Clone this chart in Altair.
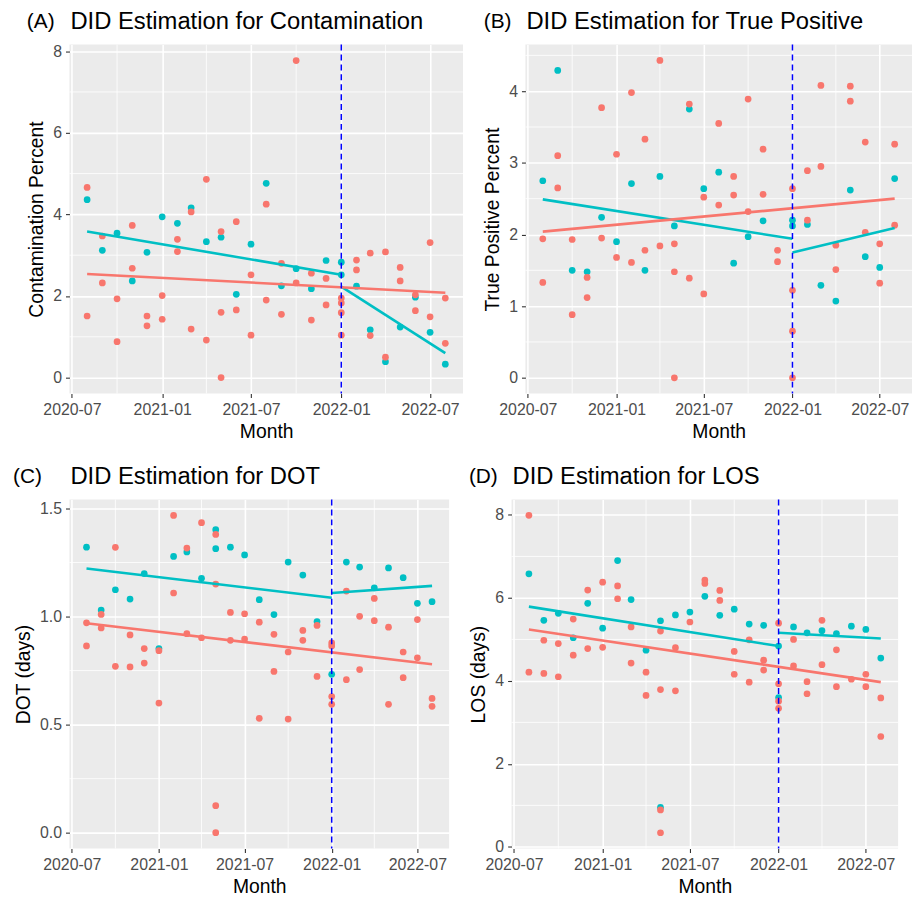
import altair as alt
import pandas as pd

MONTHS = ["2020-08", "2020-09", "2020-10", "2020-11", "2020-12",
          "2021-01", "2021-02", "2021-03", "2021-04", "2021-05", "2021-06",
          "2021-07", "2021-08", "2021-09", "2021-10", "2021-11", "2021-12",
          "2022-01", "2022-02", "2022-03", "2022-04", "2022-05", "2022-06",
          "2022-07", "2022-08"]

# ---- Panel A: Contamination ----
A_TEAL = [[4.36], [3.12], [3.54], [2.37], [3.07], [3.94], [3.78], [4.16], [3.33], [3.44],
          [2.04], [3.27], [4.76], [2.25], [2.67], [2.18], [2.87], [2.83, 2.52], [2.24],
          [1.17], [0.39], [1.24], [1.97], [1.11], [0.33]]
A_SALMON = [[4.66, 1.51], [3.47, 2.32], [1.93, 0.88], [3.73, 2.68], [1.51, 1.27],
            [2.01, 1.43], [3.39, 3.09], [4.06, 1.19], [4.86, 0.92], [3.58, 1.60, 0.0],
            [3.82, 1.66], [2.52, 1.04], [4.25, 1.90], [2.80, 1.55], [7.77, 2.32],
            [2.56, 1.41], [2.43, 1.78], [1.95, 1.83, 1.59, 1.04], [2.88, 2.64],
            [3.05, 1.03], [3.08, 0.50], [2.70, 2.37], [2.03, 1.64], [3.31, 1.49], [1.95, 0.84]]
A_TEAL_PRE = [3.58, 2.52]
A_TEAL_POST = [2.23, 0.60]
A_SALMON_FIT = [2.54, 2.08]

# ---- Panel B: True Positive ----
B_TEAL = [[2.75], [4.29], [1.50], [1.48], [2.24], [1.90], [2.71], [1.50], [2.81], [2.12],
          [3.75], [2.64], [2.87], [1.60], [1.97], [2.19], [], [2.20, 2.12], [2.14],
          [1.29], [1.07], [2.62], [1.69], [1.54], [2.78]]
B_SALMON = [[1.94, 1.33], [3.10, 2.65], [1.93, 0.88], [1.40, 1.12], [3.77, 1.95],
            [3.12, 1.68], [3.98, 1.61], [3.33, 1.78], [4.43, 1.84], [1.87, 1.48, 0.0],
            [3.82, 1.39], [2.52, 1.17], [3.55, 2.41], [2.81, 2.55], [3.89, 2.32],
            [3.19, 2.56], [1.78, 1.62], [2.64, 1.22, 0.65, 0.0], [2.89, 2.20],
            [4.08, 2.95], [1.85, 1.51], [4.07, 3.86], [3.29, 2.03], [1.87, 1.32], [3.26, 2.13]]
B_TEAL_PRE = [2.49, 1.94]
B_TEAL_POST = [1.75, 2.09]
B_SALMON_FIT = [2.04, 2.50]

# ---- Panel C: DOT ----
C_TEAL = [[1.321], [1.030], [1.124], [1.081], [1.199], [0.852], [1.278], [1.299], [1.177],
          [1.402, 1.314], [1.321], [1.285], [1.078], [1.009], [1.252], [1.192], [0.977],
          [0.733], [1.252], [1.229], [1.133], [1.225], [1.180], [1.061], [1.069]]
C_SALMON = [[0.971, 0.864], [1.010, 0.947], [1.320, 0.770], [0.915, 0.767], [0.852, 0.785],
            [0.842, 0.600], [1.468, 1.109], [1.317, 0.921], [1.434, 0.902],
            [1.380, 1.150, 0.125, 0.0], [1.019, 0.890], [1.013, 0.896], [0.974, 0.529],
            [0.918, 0.746], [0.836, 0.526], [0.936, 0.890], [0.959, 0.723],
            [0.878, 0.864, 0.630, 0.594], [1.118, 0.708], [1.001, 0.755], [1.084, 0.981],
            [0.951, 0.594], [0.836, 0.717], [0.986, 0.809], [0.621, 0.585]]
C_TEAL_PRE = [1.222, 1.087]
C_TEAL_POST = [1.109, 1.142]
C_SALMON_FIT = [0.969, 0.779]

# ---- Panel D: LOS ----
D_TEAL = [[6.58], [5.46], [5.63], [5.04], [5.87], [5.27], [6.90], [5.96], [4.74], [5.45, 0.95],
          [5.59], [5.66], [6.04], [5.58], [5.73], [5.37], [5.34], [4.84, 3.60], [5.30],
          [5.16], [5.21], [5.14], [5.32], [5.24], [4.55]]
D_SALMON = [[7.99, 4.21], [4.98, 4.18], [4.90, 4.10], [5.49, 4.62], [6.19, 4.78],
            [6.38, 4.81], [6.29, 5.98], [5.30, 4.43], [4.21, 3.65], [5.20, 3.79, 0.89, 0.34],
            [4.80, 3.76], [5.42], [6.43, 6.35], [6.18, 5.94], [4.71, 4.16], [4.99, 3.97],
            [4.50, 4.26], [5.39, 3.93, 3.51, 3.34], [5.00, 4.36], [3.98, 3.69], [5.46, 4.39],
            [4.75, 3.86], [4.04], [4.16, 3.86], [3.59, 2.66]]
D_TEAL_PRE = [5.79, 4.84]
D_TEAL_POST = [5.16, 5.02]
D_SALMON_FIT = [5.24, 3.97]

SALMON = "#F8766D"
TEAL = "#00BFC4"
FONT = "Liberation Sans"


def dt(s):
    return s + "-01T00:00:00"


X_MAJOR = [alt.DateTime(year=y, month=m, date=1) for y, m in
           [(2020, 7), (2021, 1), (2021, 7), (2022, 1), (2022, 7)]]
X_MINOR = ["2020-10", "2021-04", "2021-10", "2022-04"]
X_DOMAIN = [alt.DateTime(year=2020, month=6, date=26), alt.DateTime(year=2022, month=9, date=6)]


def panel(tag, title, ytitle, teal, salmon, tpre, tpost, sfit, ydomain, yticks, yminor,
          yfmt, width, tagx):
    pts = []
    for m, vals in zip(MONTHS, teal):
        for v in vals:
            pts.append({"date": dt(m), "value": v, "grp": "Intervention"})
    spts = []
    for m, vals in zip(MONTHS, salmon):
        for v in vals:
            spts.append({"date": dt(m), "value": v, "grp": "Control"})
    fit = []
    fit += [{"date": dt(m), "value": v, "grp": "Intervention", "seg": "pre"}
            for m, v in zip(["2020-08", "2022-01"], tpre)]
    fit += [{"date": dt(m), "value": v, "grp": "Intervention", "seg": "post"}
            for m, v in zip(["2022-01", "2022-08"], tpost)]
    fit += [{"date": dt(m), "value": v, "grp": "Control", "seg": "all"}
            for m, v in zip(["2020-08", "2022-08"], sfit)]

    xenc = alt.X("date:T", title="Month",
                 scale=alt.Scale(domain=X_DOMAIN),
                 axis=alt.Axis(values=X_MAJOR, format="%Y-%m", labelAngle=0))
    yenc = alt.Y("value:Q", title=ytitle,
                 scale=alt.Scale(domain=ydomain, nice=False, zero=False),
                 axis=alt.Axis(values=yticks, format=yfmt))
    cenc = alt.Color("grp:N", legend=None,
                     scale=alt.Scale(domain=["Control", "Intervention"], range=[SALMON, TEAL]))

    minor_x = alt.Chart(pd.DataFrame({"date": [dt(m) for m in X_MINOR]})).mark_rule(
        color="white", strokeWidth=0.8).encode(x=xenc)
    minor_y = alt.Chart(pd.DataFrame({"value": yminor})).mark_rule(
        color="white", strokeWidth=0.8).encode(y=yenc)
    tpts = alt.Chart(pd.DataFrame(pts)).mark_circle(size=46, opacity=1).encode(
        x=xenc, y=yenc, color=cenc)
    s_pts = alt.Chart(pd.DataFrame(spts)).mark_circle(size=46, opacity=1).encode(
        x=xenc, y=yenc, color=cenc)
    lines = alt.Chart(pd.DataFrame(fit)).mark_line(strokeWidth=2.6).encode(
        x=xenc, y=yenc, color=cenc, detail="seg:N")
    vline = alt.Chart(pd.DataFrame({"date": [dt("2022-01")]})).mark_rule(
        color="blue", strokeDash=[6, 4], strokeWidth=1.5).encode(x=xenc)
    tagm = alt.Chart(pd.DataFrame({"tag": [tag]})).mark_text(
        align="left", baseline="middle", fontSize=21, font=FONT, color="black").encode(
        x=alt.value(tagx), y=alt.value(-23), text="tag:N")
    titlem = alt.Chart(pd.DataFrame({"t": [title]})).mark_text(
        align="left", baseline="middle", fontSize=24, font=FONT, color="black").encode(
        x=alt.value(1), y=alt.value(-23), text="t:N")

    return alt.layer(minor_x, minor_y, tpts, s_pts, lines, vline, tagm, titlem).properties(
        width=width, height=352)


pA = panel("(A)", "DID Estimation for Contamination", "Contamination Percent",
           A_TEAL, A_SALMON, A_TEAL_PRE, A_TEAL_POST, A_SALMON_FIT,
           [-0.39, 8.16], [0, 2, 4, 6, 8], [1, 3, 5, 7], "d", 397, -43)
pB = panel("(B)", "DID Estimation for True Positive", "True Positive Percent",
           B_TEAL, B_SALMON, B_TEAL_PRE, B_TEAL_POST, B_SALMON_FIT,
           [-0.22, 4.65], [0, 1, 2, 3, 4], [0.5, 1.5, 2.5, 3.5, 4.5], "d", 390, -42)
pC = panel("(C)", "DID Estimation for DOT", "DOT (days)",
           C_TEAL, C_SALMON, C_TEAL_PRE, C_TEAL_POST, C_SALMON_FIT,
           [-0.073, 1.541], [0.0, 0.5, 1.0, 1.5], [0.25, 0.75, 1.25], ".1f", 383, -57)
pD = panel("(D)", "DID Estimation for LOS", "LOS (days)",
           D_TEAL, D_SALMON, D_TEAL_PRE, D_TEAL_POST, D_SALMON_FIT,
           [-0.04, 8.37], [0, 2, 4, 6, 8], [1, 3, 5, 7], "d", 390, -43)

chart = alt.vconcat(
    alt.hconcat(pA, pB, spacing=19),
    alt.hconcat(pC, pD, spacing=19),
    spacing=24,
).properties(
    padding={"left": 5, "top": -2, "right": 0, "bottom": 0},
    background="white",
).configure_view(fill="#EBEBEB", strokeWidth=0).configure_axis(
    grid=True, gridColor="white", gridWidth=1.6, domain=False,
    tickColor="#333333", tickSize=4, tickWidth=1.1,
    labelColor="#4D4D4D", labelFontSize=16, labelFont=FONT,
    titleColor="black", titleFontSize=19.5, titleFont=FONT, titleFontWeight="normal",
).configure_axisX(labelPadding=4, titlePadding=5).configure_axisY(
    labelPadding=4, titlePadding=6)

chart.save("out.html", embed_options={"renderer": "svg", "actions": False})
